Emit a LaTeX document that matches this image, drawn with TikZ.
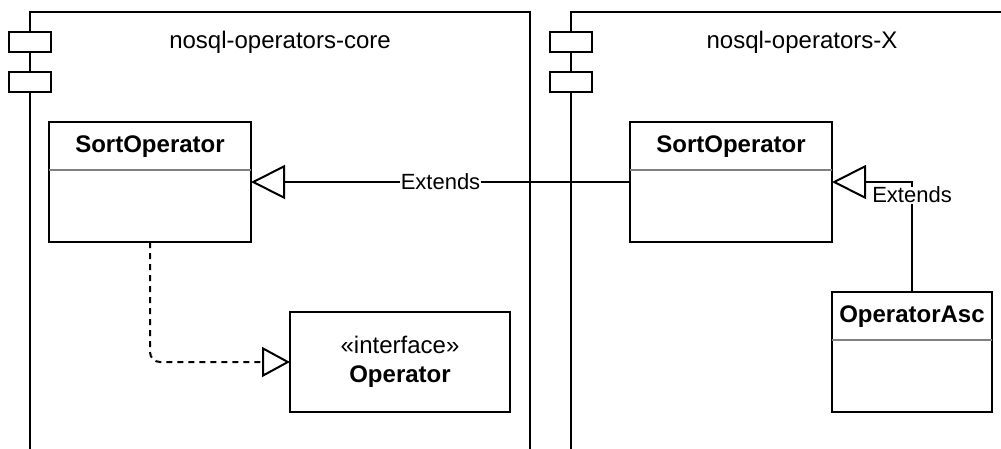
\documentclass[tikz,border=0pt]{standalone}
\usepackage{fontspec}
\setmainfont{Liberation Sans}
\usetikzlibrary{arrows.meta, positioning, calc}

\begin{document}
\begin{tikzpicture}[
    x=1pt, y=-1pt,
    pkg/.style={rectangle, draw, line width=2pt, anchor=north west, outer sep=0pt},
    port/.style={rectangle, draw, fill=white, line width=2pt, anchor=north west,
                 minimum width=42pt, minimum height=20pt, outer sep=0pt},
    ptitle/.style={anchor=base, font=\fontsize{24}{29}\selectfont},
    classbox/.style={rectangle, draw, line width=2pt, fill=white, outer sep=0pt},
    ctitle/.style={anchor=base, font=\fontsize{24}{29}\selectfont\bfseries},
    sep/.style={draw=gray, line width=1.5pt},
    lbl/.style={fill=white, inner sep=1pt, text height=15pt, text depth=0pt,
                font=\fontsize{22}{26}\selectfont},
    extends/.style={line width=2pt, -{Triangle[open, length=34pt, width=34pt]}},
    realize/.style={line width=2pt, dash pattern=on 6pt off 5pt, rounded corners=10pt,
                    -{Triangle[open, length=28pt, width=30pt]}}
]
    \useasboundingbox (0,0) rectangle (1001,448);
    \clip (0,0) rectangle (1001,448);

    % Packages
    \node[pkg, minimum width=500pt, minimum height=470pt] (corePkg) at (30,12) {};
    \node[pkg, minimum width=462pt, minimum height=470pt] (xPkg) at (571,12) {};
    \foreach \p in {corePkg, xPkg} {
        \foreach \dy in {20,60} {
            \node[port] (\p-port\dy) at ($(\p.north west)+(-21,\dy)$) {};
        }
    }
    \node[ptitle] (coreTitle) at ($(corePkg.north)+(0,36)$) {nosql-operators-core};
    \node[ptitle] (xTitle) at ($(xPkg.north)+(0,36)$) {nosql-operators-X};

    % Classes
    \node[classbox, minimum width=202pt, minimum height=120pt] (coreSort) at (150,182) {};
    \node[classbox, minimum width=202pt, minimum height=120pt] (xSort) at (731,182) {};
    \node[classbox, minimum width=160pt, minimum height=120pt] (asc) at (912,352) {};
    \node[classbox, minimum width=220pt, minimum height=100pt, align=center,
          font=\fontsize{24}{29}\selectfont] (opIface) at (400,362)
          {«interface»\\\textbf{Operator}};

    \foreach \c/\t in {coreSort/SortOperator, xSort/SortOperator, asc/OperatorAsc} {
        \node[ctitle] (\c-title) at ($(\c.north)+(0,30)$) {\t};
        \draw[sep] ([yshift=-48pt]\c.north west) -- ([yshift=-48pt]\c.north east);
    }

    % Relations
    \draw[extends] (xSort.west) -- node[lbl] {Extends} (coreSort.east);
    \draw[extends] (asc.north) |- node[lbl, pos=0.44] {Extends} (xSort.east);
    \draw[realize] (coreSort.south) |- (opIface.west);
\end{tikzpicture}
\end{document}
